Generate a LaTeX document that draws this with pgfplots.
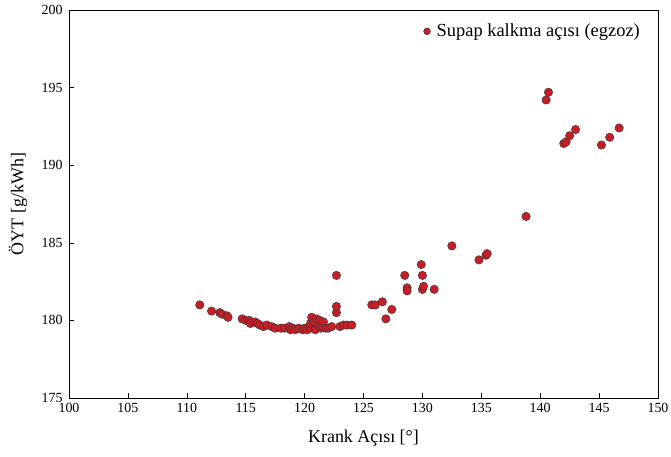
\documentclass[border=0pt]{standalone}
\usepackage{fontspec}
\setmainfont{Liberation Serif}
\usepackage{pgfplots}
\pgfplotsset{compat=1.18}
\definecolor{mred}{RGB}{200,30,40}
\definecolor{medge}{RGB}{70,50,50}
\begin{document}
\begin{tikzpicture}
\begin{axis}[
  scale only axis,
  width=589bp, height=388bp,
  xmin=100, xmax=150, ymin=175, ymax=200,
  xtick={100,105,...,150}, ytick={175,180,...,200},
  tick align=inside,
  xtick pos=bottom, ytick pos=left,
  major tick length=5bp,
  tick style={black, line width=0.6pt},
  axis line style={black, line width=0.8pt},
  /pgf/number format/assume math mode=true,
  ticklabel style={font=\fontsize{14}{16}\selectfont},
  xticklabel style={yshift=-2bp},
  yticklabel style={xshift=-3bp},
  xlabel={Krank Açısı [°]},
  ylabel={ÖYT [g/kWh]},
  label style={font=\fontsize{18}{20}\selectfont},
  xlabel style={at={(axis description cs:0.5,0)}, anchor=center, yshift=-40bp},
  ylabel style={at={(axis description cs:0,0.5)}, anchor=center, yshift=51bp},
  legend style={draw=none, fill=none, at={(1,1)}, anchor=north east, xshift=-15bp, yshift=-11bp, font=\fontsize{18.5}{20}\selectfont, inner sep=1bp},
  legend cell align=left,
  legend image code/.code={\path[draw=none, fill=none] (0bp,0bp) -- (11bp,0bp); \draw[mark size=3.4bp] plot coordinates {(3.4bp,0bp)};},
]
\addplot[only marks, mark=*, mark size=4.2bp, mark options={fill=mred, draw=medge, line width=0.5pt}] coordinates {
(111.1,181.0) (112.1,180.6) (112.8,180.5) (113.0,180.4) (113.4,180.3) (113.5,180.2)
(114.7,180.1) (115.0,180.0) (115.3,180.0) (115.4,179.8) (115.8,179.9) (116.0,179.8)
(116.2,179.7) (116.5,179.6) (116.8,179.7) (117.2,179.6) (117.5,179.5) (118.0,179.5)
(118.3,179.5) (118.7,179.6) (118.8,179.4) (119.0,179.5) (119.2,179.4) (119.5,179.5)
(119.8,179.4) (120.0,179.5) (120.2,179.4) (120.5,179.5) (120.5,179.8) (120.6,180.2)
(120.8,179.9) (120.9,179.4) (121.0,180.1) (121.2,179.7) (121.3,180.0) (121.4,179.5)
(121.5,179.6) (121.6,179.9) (121.8,179.5) (122.0,179.5) (122.3,179.6) (122.7,180.5)
(122.7,180.9) (122.7,182.9) (123.0,179.6) (123.3,179.7) (123.6,179.7) (124.0,179.7)
(125.7,181.0) (126.0,181.0) (126.6,181.2) (126.9,180.1) (127.4,180.7) (128.5,182.9)
(128.7,182.1) (128.7,181.9) (129.9,183.6) (130.0,182.9) (130.0,182.0) (130.1,182.2)
(131.0,182.0) (132.5,184.8) (134.8,183.9) (135.4,184.2) (135.5,184.3) (138.8,186.7)
(140.5,194.2) (140.7,194.7) (142.0,191.4) (142.2,191.5) (142.5,191.9) (143.0,192.3)
(145.2,191.3) (145.9,191.8) (146.7,192.4)
};
\addlegendentry{Supap kalkma açısı (egzoz)}
\end{axis}
\pgfresetboundingbox
\path ([shift={(-69bp,-58bp)}]current axis.south west) rectangle ([shift={(13bp,10bp)}]current axis.north east);
\end{tikzpicture}
\end{document}
